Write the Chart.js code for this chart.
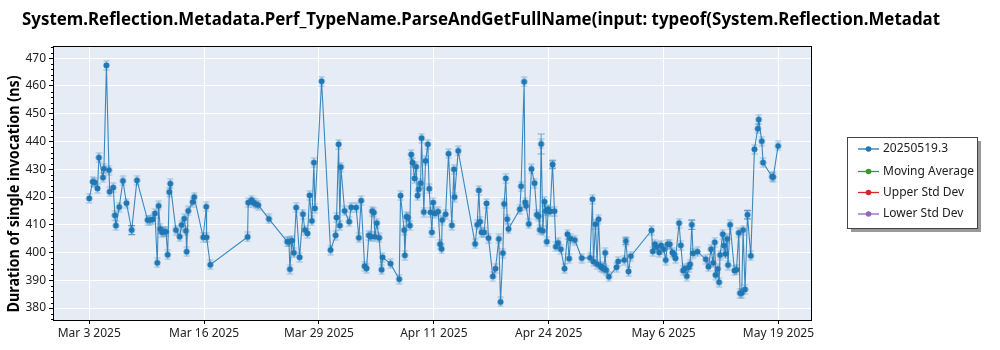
<!DOCTYPE html>
<html>
<head>
<meta charset="utf-8">
<script src="https://cdn.jsdelivr.net/npm/chart.js"></script>
<style>
  body { margin: 0; background: #fff; }
  canvas { display: block; }
</style>
</head>
<body>
<canvas id="myChart" width="1000" height="350"></canvas>
<script>
// days after Mar 3 2025, and measured duration (ns)
var days = [
  0.00, 0.38, 0.60, 0.92, 1.08, 1.53, 1.64, 1.92, 2.20, 2.28, 2.68, 2.87, 2.98, 3.35, 3.76, 4.16, 4.74, 5.33,
  6.52, 6.78, 7.08, 7.34, 7.60, 7.75, 7.93, 8.12, 8.34, 8.57, 8.76, 8.94, 9.05, 9.68, 10.10, 10.32, 10.61,
  10.80, 10.88, 11.06, 11.55, 11.73, 12.73, 13.07, 13.11, 13.52,
  17.69, 17.76, 18.14, 18.32, 18.59, 18.88, 20.07, 22.12, 22.31, 22.42, 22.64, 22.86, 23.12, 23.50, 23.87,
  24.09, 24.39, 24.62, 24.87, 25.10, 25.21, 25.96, 26.96, 27.52, 27.63, 27.86, 28.00, 28.11, 28.53, 29.04,
  29.26, 29.82, 30.12, 30.38, 30.76, 30.98, 31.24, 31.46, 31.61, 31.80, 31.91, 32.13, 32.39, 32.66, 32.77,
  33.66, 34.63, 34.78, 35.18, 35.26, 35.45, 35.60, 35.82, 35.97, 36.12, 36.35, 36.52, 36.68, 36.82, 37.02,
  37.13, 37.38, 37.57, 37.83, 37.98, 38.13, 38.28, 38.42, 38.61, 38.98, 39.20, 39.36, 39.43, 39.81, 40.14,
  40.51, 40.74, 40.81, 41.22,
  43.11, 43.34, 43.53, 43.67, 43.83, 44.12, 44.39, 44.61, 45.09, 45.39, 45.76, 45.95, 46.21, 46.35, 46.54,
  46.69, 46.84, 48.11, 48.25, 48.59, 48.70, 48.81, 49.11, 49.41, 49.75, 50.01, 50.20, 50.34, 50.49, 50.68,
  50.86, 51.01, 51.12, 51.27, 51.49, 51.76, 51.98, 52.13, 52.38, 52.68, 53.10, 53.43, 53.61, 53.77, 54.25,
  55.03, 55.96, 56.22, 56.34, 56.56, 56.74, 56.90, 57.12, 57.27, 57.49, 57.64, 57.75, 58.05, 58.91, 59.09,
  59.78, 59.95, 60.25, 60.50,
  62.82, 62.96, 63.19, 63.38, 63.67, 63.89, 64.19, 64.41, 64.61, 64.86, 65.16, 65.34, 65.50, 65.90, 66.09,
  66.35, 66.54, 66.76, 66.99, 67.13, 67.32, 67.46, 67.95, 68.88, 69.18, 69.47, 69.70, 69.89, 69.97, 70.22,
  70.37, 70.48, 70.78, 70.93, 71.08, 71.26, 71.37, 71.60, 72.09, 72.31, 72.57, 72.71, 72.90, 73.05, 73.27,
  73.54, 73.91, 74.32, 74.69, 74.80, 75.14, 75.28, 76.29, 76.42, 76.96
]
var durations = [
  419.5, 425.5, 425.3, 423.1, 434.2, 427.0, 430.2, 467.4, 429.7, 421.9, 423.4, 413.4, 409.7, 416.4, 425.8, 417.8, 408.1, 426.0,
  411.7, 411.7, 411.9, 414.1, 396.3, 416.8, 408.5, 407.3, 407.5, 407.5, 399.2, 421.8, 424.8, 408.1, 405.7, 409.9, 412.2,
  407.8, 400.3, 415.0, 418.2, 420.0, 405.5, 416.5, 405.5, 395.6,
  405.6, 418.0, 418.9, 418.0, 417.5, 417.1, 412.1, 403.9, 403.9, 394.0, 404.3, 399.9, 416.2, 398.3, 413.8,
  408.1, 406.9, 420.6, 411.4, 432.4, 415.9, 461.7, 400.9, 406.2, 412.6, 439.0, 409.7, 430.8, 415.0, 411.1,
  416.3, 416.2, 405.3, 418.7, 395.1, 394.3, 406.2, 405.7, 414.9, 414.4, 405.7, 410.6, 405.3, 393.8, 398.3,
  396.0, 390.4, 420.5, 408.1, 399.0, 412.9, 412.6, 409.7, 435.3, 432.4, 426.7, 430.9, 420.5, 422.8, 425.0,
  441.2, 414.6, 433.0, 439.0, 423.0, 414.5, 407.3, 418.0, 414.1, 414.7, 403.0, 401.3, 411.7, 413.8, 435.6,
  409.8, 430.0, 420.0, 436.6,
  403.1, 410.0, 422.4, 411.1, 407.3, 407.3, 417.7, 405.2, 391.4, 394.2, 404.9, 382.2, 399.8, 417.5, 426.7,
  412.0, 408.5, 415.6, 423.9, 461.5, 418.1, 416.8, 410.3, 430.1, 425.0, 413.6, 413.1, 408.2, 439.1, 407.8,
  418.3, 415.0, 403.9, 415.6, 414.8, 431.7, 414.9, 402.1, 403.5, 401.2, 394.2, 406.6, 397.8, 405.0, 404.5,
  398.0, 398.1, 419.2, 396.7, 410.2, 395.8, 412.0, 395.1, 394.6, 394.2, 399.9, 393.7, 391.3, 394.7, 396.8,
  397.3, 404.1, 393.2, 398.7,
  408.0, 400.4, 403.0, 402.0, 400.0, 402.6, 401.2, 397.3, 403.0, 403.0, 400.0, 399.2, 397.9, 410.6, 402.6,
  393.5, 394.2, 391.5, 394.7, 395.8, 410.0, 399.7, 400.3, 397.6, 394.9, 401.2, 396.3, 403.7, 391.9, 394.1,
  389.3, 399.1, 406.6, 402.5, 399.5, 404.9, 395.5, 410.0, 393.5, 393.8, 407.1, 385.4, 385.4, 408.1, 386.7,
  413.6, 398.8, 437.2, 444.6, 447.9, 440.1, 432.4, 427.3, 427.2, 438.4
]
// the few wider error bars (day, +/- ns)
var errDays = [4.74, 50.49, 51.76, 59.95, 67.32, 73.54]
var errSizes = [1.6, 3.6, 1.3, 1.2, 1.7, 1.5]

var tickDays = [0, 12.833, 25.667, 38.5, 51.333, 64.167, 77]
var tickLabels = ["Mar 3 2025", "Mar 16 2025", "Mar 29 2025", "Apr 11 2025", "Apr 24 2025", "May 6 2025", "May 19 2025"]
var yTicks = [380, 390, 400, 410, 420, 430, 440, 450, 460, 470]

var seriesNames = ["20250519.3", "Moving Average", "Upper Std Dev", "Lower Std Dev"]
var seriesColors = ["#1f77b4", "#2ca02c", "#d62728", "#9467bd"]

var titleText = "System.Reflection.Metadata.Perf_TypeName.ParseAndGetFullName(input: typeof(System.Reflection.Metadat"
var font = "'Noto Sans', 'Open Sans', sans-serif"

// marker: dot with small error caps
var mk = document.createElement('canvas')
mk.width = 9; mk.height = 11
var m = mk.getContext('2d')
m.strokeStyle = 'rgba(31,119,180,0.45)'
m.lineWidth = 1.1
m.beginPath()
m.moveTo(1.5, 1); m.lineTo(7.5, 1)
m.moveTo(1.5, 10); m.lineTo(7.5, 10)
m.moveTo(4.5, 1); m.lineTo(4.5, 10)
m.stroke()
m.fillStyle = '#1f77b4'
m.beginPath(); m.arc(4.5, 5.5, 3, 0, Math.PI * 2); m.fill()

var points = days.map(function(d, i){ return {x: d, y: durations[i]} })

var datasets = [{
    label: seriesNames[0],
    data: points,
    borderColor: 'rgba(31,119,180,0.85)',
    borderWidth: 1.1,
    pointStyle: mk,
    pointRadius: 3,
    tension: 0
}]
for (var i = 1; i < seriesNames.length; i++) {
    datasets.push({label: seriesNames[i], data: [], borderColor: seriesColors[i], backgroundColor: seriesColors[i]})
}

var decor = {
    id: 'decor',
    beforeDraw: function(chart){
        var ctx = chart.ctx, a = chart.chartArea
        ctx.save()
        ctx.fillStyle = '#fff'
        ctx.fillRect(0, 0, chart.width, chart.height)
        ctx.fillStyle = '#e5ecf6'
        ctx.fillRect(a.left, a.top, a.right - a.left, a.bottom - a.top)
        ctx.restore()
    },
    afterDatasetsDraw: function(chart){
        var ctx = chart.ctx, xs = chart.scales.x, ys = chart.scales.y
        ctx.save()
        ctx.strokeStyle = 'rgba(31,119,180,0.55)'
        ctx.lineWidth = 1.2
        errDays.forEach(function(d, k){
            var i = days.indexOf(d)
            if (i < 0) return
            var px = xs.getPixelForValue(d)
            var top = ys.getPixelForValue(durations[i] + errSizes[k])
            var bot = ys.getPixelForValue(durations[i] - errSizes[k])
            ctx.beginPath()
            ctx.moveTo(px, top); ctx.lineTo(px, bot)
            ctx.moveTo(px - 3.5, top); ctx.lineTo(px + 3.5, top)
            ctx.moveTo(px - 3.5, bot); ctx.lineTo(px + 3.5, bot)
            ctx.stroke()
        })
        ctx.restore()
    },
    afterDraw: function(chart){
        var ctx = chart.ctx, a = chart.chartArea, ys = chart.scales.y
        ctx.save()
        // frame
        ctx.strokeStyle = '#000'
        ctx.lineWidth = 1
        ctx.strokeRect(a.left + 0.5, a.top + 0.5, a.right - a.left - 1, a.bottom - a.top)
        // minor y ticks
        ctx.beginPath()
        for (var v = 376; v <= 474; v += 2) {
            if (v % 10 === 0) continue
            var py = Math.round(ys.getPixelForValue(v)) + 0.5
            ctx.moveTo(a.left - 2, py); ctx.lineTo(a.left, py)
        }
        ctx.stroke()
        // title
        ctx.fillStyle = '#000'
        ctx.textBaseline = 'middle'
        ctx.font = "bold 17px " + font
        ctx.fillText(titleText, 22, 20, 918)
        // y axis title
        ctx.font = "bold 16px " + font
        ctx.translate(14, 194)
        ctx.rotate(-Math.PI / 2)
        ctx.textAlign = 'center'
        ctx.fillText("Duration of single invocation (ns)", 0, 0, 237)
        ctx.setTransform(1, 0, 0, 1, 0, 0)
        // legend box
        var bx = 847, by = 137, bw = 130, bh = 91
        ctx.fillStyle = '#999'
        ctx.fillRect(bx + 4, by + 4, bw, bh)
        ctx.fillStyle = '#fff'
        ctx.fillRect(bx, by, bw, bh)
        ctx.strokeStyle = '#444'
        ctx.strokeRect(bx + 0.5, by + 0.5, bw, bh)
        ctx.font = "12px " + font
        ctx.textAlign = 'left'
        var rows = [149, 171.5, 192.5, 214]
        chart.data.datasets.forEach(function(ds, i){
            var c = seriesColors[i]
            ctx.strokeStyle = c
            ctx.lineWidth = 1.3
            ctx.beginPath(); ctx.moveTo(858, rows[i]); ctx.lineTo(879, rows[i]); ctx.stroke()
            ctx.fillStyle = c
            ctx.beginPath(); ctx.arc(868.5, rows[i], 2.8, 0, Math.PI * 2); ctx.fill()
            ctx.fillStyle = '#222'
            ctx.fillText(ds.label, 883, rows[i])
        })
        ctx.restore()
    }
}

var myChart = document.getElementById("myChart").getContext('2d')
var chart = new Chart(myChart, {
    type: 'line',
    data: {datasets: datasets},
    options: {
        responsive: false,
        animation: false,
        devicePixelRatio: 1,
        layout: {padding: {left: 0, top: 46, right: 188, bottom: 0}},
        plugins: {legend: {display: false}, tooltip: {enabled: false}},
        scales: {
            x: {
                type: 'linear',
                min: -4.05,
                max: 80.75,
                afterFit: function(s){ s.height = 30 },
                afterBuildTicks: function(s){ s.ticks = tickDays.map(function(v){ return {value: v} }) },
                ticks: {
                    padding: 2,
                    color: '#222',
                    font: {family: font, size: 12},
                    maxRotation: 0,
                    autoSkip: false,
                    callback: function(v, i){ return tickLabels[i] }
                },
                grid: {color: '#fff', lineWidth: 1, tickColor: '#000', tickLength: 4},
                border: {display: false}
            },
            y: {
                min: 375.7,
                max: 474.4,
                afterFit: function(s){ s.width = 53 },
                afterBuildTicks: function(s){ s.ticks = yTicks.map(function(v){ return {value: v} }) },
                ticks: {
                    padding: 3,
                    color: '#222',
                    font: {family: font, size: 12}
                },
                grid: {color: '#fff', lineWidth: 1, tickColor: '#000', tickLength: 4},
                border: {display: false}
            }
        }
    },
    plugins: [decor]
})
</script>
</body>
</html>
